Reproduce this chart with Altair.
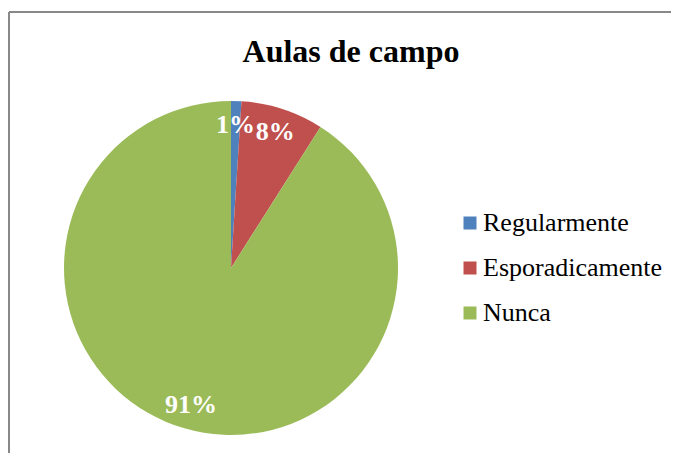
import altair as alt
import pandas as pd

title_text = "Aulas de campo"
categories = ["Regularmente", "Esporadicamente", "Nunca"]
values = [1, 8, 91]
labels = ["1%", "8%", "91%"]
colors = ["#4F81BD", "#C0504D", "#9BBB59"]

SERIF = "Liberation Serif"

df = pd.DataFrame({
    "categoria": categories,
    "valor": values,
    "rotulo": labels,
    "ordem": list(range(len(categories))),
})

cx, cy, R = 222, 256, 167
W, H = 662, 441

base = alt.Chart(df).encode(
    theta=alt.Theta("valor:Q", stack=True),
    order=alt.Order("ordem:Q"),
)

pie = base.mark_arc(outerRadius=R, stroke=None).encode(
    x=alt.value(cx),
    y=alt.value(cy),
    color=alt.Color(
        "categoria:N",
        sort=categories,
        scale=alt.Scale(domain=categories, range=colors),
        legend=alt.Legend(
            title=None,
            orient="none",
            legendX=446,
            legendY=198,
            symbolType="square",
            symbolSize=169,
            symbolStrokeWidth=0,
            symbolOffset=2,
            labelFont=SERIF,
            labelFontSize=26,
            labelColor="#000000",
            labelOffset=0,
            rowPadding=19,
            padding=0,
            labelLimit=300,
        ),
    ),
)

text = base.mark_text(
    radius=143,
    font=SERIF,
    fontSize=26,
    fontWeight="bold",
    color="white",
    align="center",
    baseline="middle",
).encode(
    x=alt.value(cx),
    y=alt.value(cy),
    text="rotulo:N",
)

title = alt.Chart(pd.DataFrame({"t": [title_text]})).mark_text(
    font=SERIF,
    fontSize=32,
    fontWeight="bold",
    color="black",
    align="center",
    baseline="alphabetic",
).encode(
    x=alt.value(342),
    y=alt.value(50),
    text="t:N",
)

frame_top = alt.Chart(pd.DataFrame({"k": [0]})).mark_rule(
    color="#888888", strokeWidth=2
).encode(x=alt.value(0), x2=alt.value(W + 20), y=alt.value(0))

frame_left = alt.Chart(pd.DataFrame({"k": [0]})).mark_rule(
    color="#888888", strokeWidth=2
).encode(x=alt.value(0), y=alt.value(0), y2=alt.value(H + 20))

chart = alt.layer(pie, text, title, frame_top, frame_left).properties(
    width=W,
    height=H,
    padding={"left": 1, "top": 4, "right": 0, "bottom": 0},
    autosize=alt.AutoSizeParams(type="none"),
).configure_view(
    stroke=None,
)

chart.save("out.html", embed_options={"renderer": "svg", "actions": False})
